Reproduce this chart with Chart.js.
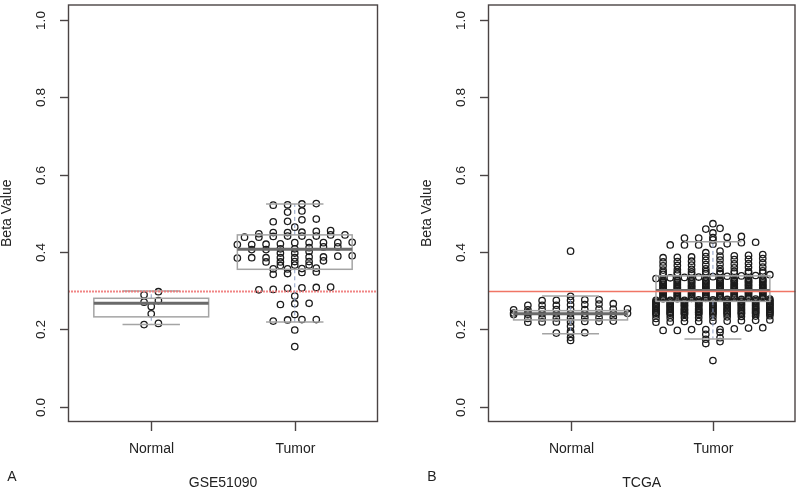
<!DOCTYPE html>
<html>
<head>
<meta charset="utf-8">
<script src="https://cdn.jsdelivr.net/npm/chart.js@4/dist/chart.umd.min.js"></script>
<style>
  html, body { margin: 0; padding: 0; background: #fff; }
  #wrap { position: relative; width: 800px; height: 490px; }
  canvas { position: absolute; top: 0; }
</style>
</head>
<body>
<div id="wrap">
  <canvas id="panelA" width="400" height="490" style="left:0"></canvas>
  <canvas id="panelB" width="400" height="490" style="left:400px"></canvas>
</div>
<script>
// groups on the x axis
var groups = ['Normal', 'Tumor'];
var yTicks = [0, 0.2, 0.4, 0.6, 0.8, 1.0];
var yTickLabels = ['0.0', '0.2', '0.4', '0.6', '0.8', '1.0'];
var cutoff = 0.3;

// GSE51090 beta values
var gseNormal = [0.297, 0.289, 0.274, 0.270, 0.259, 0.240, 0.215, 0.212];
var gseTumor = [
  0.525, 0.521, 0.522, 0.524, 0.503, 0.506, 0.483, 0.479, 0.478, 0.485, 0.464,
  0.450, 0.455, 0.450, 0.453, 0.447, 0.451,
  0.441, 0.438, 0.440, 0.441, 0.444, 0.441, 0.438, 0.444,
  0.424, 0.424, 0.420, 0.419, 0.419, 0.421, 0.424, 0.424, 0.425,
  0.413, 0.411, 0.408, 0.406, 0.408, 0.406, 0.413, 0.397, 0.397, 0.401,
  0.387, 0.385, 0.384, 0.385, 0.387, 0.385, 0.385, 0.390, 0.389,
  0.374, 0.375, 0.377, 0.375, 0.374, 0.365, 0.366, 0.366,
  0.356, 0.357, 0.358, 0.356, 0.347, 0.342, 0.344, 0.348,
  0.308, 0.303, 0.307, 0.306, 0.302, 0.309, 0.286, 0.266, 0.264, 0.267,
  0.238, 0.225, 0.221, 0.224, 0.225, 0.198, 0.155
];
// boxplot stats: lower whisker, Q1, median, Q3, upper whisker
var gseBoxNormal = [0.212, 0.232, 0.267, 0.280, 0.299];
var gseBoxTumor = [0.219, 0.355, 0.407, 0.444, 0.524];

// TCGA beta values
var tcgaNormal = [
  0.402, 0.285, 0.276, 0.274, 0.275, 0.276, 0.275,
  0.262, 0.265, 0.262, 0.263, 0.262, 0.266, 0.264,
  0.251, 0.252, 0.250, 0.251, 0.253, 0.251, 0.250, 0.252, 0.251,
  0.240, 0.241, 0.239, 0.240, 0.242, 0.240, 0.241, 0.238, 0.240, 0.243, 0.241,
  0.229, 0.230, 0.229, 0.231, 0.228, 0.230, 0.229,
  0.219, 0.220, 0.218, 0.219, 0.221, 0.219, 0.220,
  0.208, 0.195, 0.190, 0.190, 0.191, 0.179, 0.171
];
var tcgaTumor = [
  0.473, 0.461, 0.459, 0.449, 0.440, 0.436, 0.437, 0.438, 0.436, 0.431,
  0.425, 0.418, 0.418, 0.424, 0.418, 0.420, 0.421, 0.398, 0.402,
  0.388, 0.385, 0.391, 0.387, 0.393, 0.389, 0.386, 0.390,
  0.378, 0.374, 0.381, 0.376, 0.383, 0.379, 0.375, 0.380,
  0.367, 0.364, 0.370, 0.366, 0.372, 0.368, 0.365, 0.369,
  0.356, 0.353, 0.359, 0.355, 0.361, 0.357, 0.354, 0.360,
  0.346, 0.342, 0.349, 0.344, 0.351, 0.347, 0.343, 0.348, 0.345, 0.350, 0.346, 0.343, 0.349, 0.344, 0.347, 0.350,
  0.333, 0.336, 0.331, 0.339, 0.335, 0.341, 0.334, 0.338, 0.337,
  0.325, 0.321, 0.328, 0.323, 0.330, 0.326, 0.322, 0.327, 0.324, 0.329, 0.325, 0.321,
  0.328, 0.323, 0.326, 0.330, 0.324, 0.327, 0.322, 0.329, 0.325, 0.326, 0.323, 0.328,
  0.315, 0.310, 0.318, 0.312, 0.320, 0.314, 0.311, 0.317, 0.313, 0.319, 0.316, 0.310,
  0.315, 0.312, 0.318, 0.314, 0.320, 0.311, 0.317, 0.313, 0.316, 0.319, 0.314, 0.315,
  0.304, 0.300, 0.307, 0.302, 0.309, 0.305, 0.301, 0.306, 0.303, 0.308, 0.304, 0.300,
  0.307, 0.302, 0.305, 0.309, 0.303, 0.306, 0.301, 0.308, 0.304, 0.305, 0.302, 0.307,
  0.294, 0.289, 0.297, 0.291, 0.299, 0.293, 0.290, 0.296, 0.292, 0.298, 0.295, 0.289,
  0.294, 0.291, 0.297, 0.293, 0.299, 0.290, 0.296, 0.292, 0.295, 0.298, 0.293, 0.294,
  0.283, 0.279, 0.286, 0.281, 0.288, 0.284, 0.280, 0.285, 0.282, 0.287, 0.283, 0.279,
  0.286, 0.281, 0.284, 0.288, 0.282, 0.285, 0.280, 0.287, 0.283, 0.286, 0.281, 0.284,
  0.272, 0.268, 0.275, 0.270, 0.277, 0.273, 0.269, 0.276, 0.271, 0.274, 0.278, 0.270, 0.273, 0.268,
  0.275, 0.272, 0.277, 0.269, 0.274, 0.271, 0.276, 0.273, 0.270, 0.275, 0.272, 0.278, 0.271,
  0.262, 0.258, 0.265, 0.260, 0.263, 0.267, 0.259, 0.264, 0.261, 0.266, 0.262, 0.258, 0.263, 0.260,
  0.265, 0.261, 0.264, 0.259, 0.266, 0.262, 0.260, 0.263, 0.267, 0.261, 0.264, 0.259, 0.265,
  0.251, 0.248, 0.254, 0.250, 0.256, 0.247, 0.253, 0.252, 0.249, 0.255, 0.251, 0.257, 0.250, 0.253,
  0.248, 0.254, 0.252, 0.256, 0.249, 0.251, 0.255, 0.250, 0.253, 0.247, 0.252, 0.254, 0.249,
  0.241, 0.237, 0.244, 0.240, 0.243, 0.238, 0.242, 0.245, 0.239, 0.241, 0.246, 0.240, 0.243, 0.242,
  0.238, 0.244, 0.241, 0.245, 0.239, 0.242, 0.240, 0.246, 0.243, 0.237, 0.244, 0.242, 0.245,
  0.229, 0.232, 0.230, 0.234, 0.231, 0.228, 0.233, 0.230, 0.235,
  0.218, 0.221, 0.220, 0.223, 0.219, 0.222, 0.220, 0.224, 0.221,
  0.201, 0.199, 0.197, 0.204, 0.197, 0.199, 0.199, 0.203,
  0.187, 0.192, 0.178, 0.174, 0.163, 0.168, 0.119
];
var tcgaBoxNormal = [0.188, 0.224, 0.240, 0.248, 0.286];
var tcgaBoxTumor = [0.175, 0.272, 0.300, 0.338, 0.426];

var BIN = 0.0105;   // height of a swarm row (beta units)
var STEP = 0.1;     // distance between neighbours in a row (x units)

// "center" swarm: values in the same row are spread symmetrically,
// rows that are too wide wrap around inside the box
function swarm(values, group) {
  var rows = {};
  values.forEach(function (v) {
    var r = Math.round(v / BIN);
    (rows[r] = rows[r] || []).push(v);
  });
  var pts = [];
  Object.keys(rows).forEach(function (r) {
    var row = rows[r].slice().sort(function (a, b) { return a - b; });
    var n = row.length;
    var m = Math.min(n, n % 2 ? 9 : 8);
    row.forEach(function (v, i) {
      pts.push({ x: group + ((i % m) - (m - 1) / 2) * STEP, y: v });
    });
  });
  return pts;
}

var font = '"Liberation Sans", Arial, sans-serif';

function rPlot(panel) {
  function line(ctx, x1, y1, x2, y2) {
    ctx.beginPath(); ctx.moveTo(x1, y1); ctx.lineTo(x2, y2); ctx.stroke();
  }
  function drawBox(ctx, x, y, g, s) {
    var xl = x.getPixelForValue(g - 0.4), xr = x.getPixelForValue(g + 0.4);
    var cl = x.getPixelForValue(g - 0.2), cr = x.getPixelForValue(g + 0.2);
    var xm = x.getPixelForValue(g);
    var p = s.map(function (v) { return y.getPixelForValue(v); });
    ctx.setLineDash([4, 3]);
    ctx.strokeStyle = '#8d9fc6';
    ctx.lineWidth = 1;
    line(ctx, xm, p[3], xm, p[4]);
    line(ctx, xm, p[1], xm, p[0]);
    ctx.setLineDash([]);
    ctx.strokeStyle = '#a4a4a4';
    ctx.lineWidth = 1.5;
    line(ctx, cl, p[4], cr, p[4]);
    line(ctx, cl, p[0], cr, p[0]);
    ctx.strokeRect(xl, p[3], xr - xl, p[1] - p[3]);
    ctx.strokeStyle = '#6a6a6a';
    ctx.lineWidth = 3;
    line(ctx, xl, p[2], xr, p[2]);
  }
  return {
    id: 'rPlot',
    afterDatasetsDraw: function (chart) {
      var ctx = chart.ctx, a = chart.chartArea, x = chart.scales.x, y = chart.scales.y;
      ctx.save();
      panel.boxes.forEach(function (b, i) { drawBox(ctx, x, y, i + 1, b); });
      var yc = Math.round(y.getPixelForValue(cutoff)) + 0.5;
      ctx.strokeStyle = panel.cutColor;
      ctx.lineWidth = panel.cutWidth;
      ctx.setLineDash(panel.cutDash);
      line(ctx, a.left, yc, a.right, yc);
      ctx.restore();
    },
    afterDraw: function (chart) {
      var ctx = chart.ctx, a = chart.chartArea, x = chart.scales.x, y = chart.scales.y;
      ctx.save();
      ctx.strokeStyle = '#4a4444';
      ctx.lineWidth = 1.4;
      ctx.strokeRect(a.left + 0.5, a.top + 0.5, a.right - a.left - 1, a.bottom - a.top - 1);
      ctx.fillStyle = '#222';
      ctx.textAlign = 'center';
      ctx.textBaseline = 'middle';
      // y axis
      ctx.font = '13.5px ' + font;
      yTicks.forEach(function (t, i) {
        var py = Math.round(y.getPixelForValue(t)) + 0.5;
        line(ctx, a.left - 8, py, a.left, py);
        ctx.save();
        ctx.translate(a.left - 26.5, py);
        ctx.rotate(-Math.PI / 2);
        ctx.fillText(yTickLabels[i], 0, 0);
        ctx.restore();
      });
      // x axis
      ctx.font = '14px ' + font;
      groups.forEach(function (g, i) {
        var px = Math.round(x.getPixelForValue(i + 1)) + 0.5;
        line(ctx, px, a.bottom, px, a.bottom + 9);
        ctx.fillText(g, px, 449);
      });
      ctx.save();
      ctx.translate(a.left - 60.5, (a.top + a.bottom) / 2);
      ctx.rotate(-Math.PI / 2);
      ctx.fillText('Beta Value', 0, 0);
      ctx.restore();
      ctx.fillText(panel.title, (a.left + a.right) / 2, 483);
      ctx.fillText(panel.letter, a.left - 56, 477);
      ctx.restore();
    }
  };
}

function makePanel(id, panel) {
  var pts = swarm(panel.normal, 1).concat(swarm(panel.tumor, 2));
  return new Chart(document.getElementById(id), {
    type: 'scatter',
    data: {
      datasets: [{
        data: pts,
        pointRadius: 3.2,
        pointHoverRadius: 3.2,
        borderColor: '#1c1c1c',
        borderWidth: 1.3,
        backgroundColor: 'rgba(0,0,0,0)'
      }]
    },
    options: {
      responsive: false,
      animation: false,
      devicePixelRatio: 1,
      events: [],
      layout: { padding: panel.padding },
      plugins: { legend: { display: false }, tooltip: { enabled: false } },
      scales: {
        x: { type: 'linear', display: false, min: 0.42, max: 2.58 },
        y: { type: 'linear', display: false, min: -0.04, max: 1.04 }
      }
    },
    plugins: [rPlot(panel)]
  });
}

makePanel('panelA', {
  normal: gseNormal, tumor: gseTumor,
  boxes: [gseBoxNormal, gseBoxTumor],
  title: 'GSE51090', letter: 'A',
  padding: { left: 68, right: 22, top: 0, bottom: 68 },
  cutColor: 'rgba(238,120,120,0.9)', cutWidth: 2, cutDash: [2, 1]
});

makePanel('panelB', {
  normal: tcgaNormal, tumor: tcgaTumor,
  boxes: [tcgaBoxNormal, tcgaBoxTumor],
  title: 'TCGA', letter: 'B',
  padding: { left: 88, right: 1, top: 0, bottom: 68 },
  cutColor: '#f07565', cutWidth: 1.3, cutDash: []
});
</script>
</body>
</html>
